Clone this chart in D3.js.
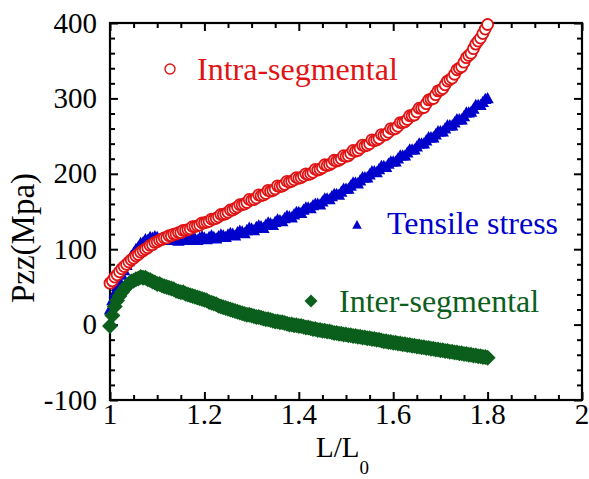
<!DOCTYPE html>
<html>
<head>
<meta charset="utf-8">
<script src="https://cdn.jsdelivr.net/npm/d3@7/dist/d3.min.js"></script>
<style>
  html, body { margin: 0; padding: 0; background: #fff; }
  svg { display: block; }
  text { font-family: "Liberation Serif", "Times New Roman", serif; }
</style>
</head>
<body>
<svg id="chart" width="589" height="479"></svg>
<script>
// ---- data ----
const strain = [
  1.000,1.005,1.010,1.015,1.020,1.025,1.030,1.035,1.040,1.045,
  1.050,1.055,1.060,1.065,1.070,1.075,1.080,1.085,1.090,1.095,
  1.100,1.105,1.110,1.115,1.120,1.125,1.130,1.135,1.140,1.145,
  1.150,1.155,1.160,1.165,1.170,1.175,1.180,1.185,1.190,1.195,
  1.200,1.205,1.210,1.215,1.220,1.225,1.230,1.235,1.240,1.245,
  1.250,1.255,1.260,1.265,1.270,1.275,1.280,1.285,1.290,1.295,
  1.300,1.305,1.310,1.315,1.320,1.325,1.330,1.335,1.340,1.345,
  1.350,1.355,1.360,1.365,1.370,1.375,1.380,1.385,1.390,1.395,
  1.400,1.405,1.410,1.415,1.420,1.425,1.430,1.435,1.440,1.445,
  1.450,1.455,1.460,1.465,1.470,1.475,1.480,1.485,1.490,1.495,
  1.500,1.505,1.510,1.515,1.520,1.525,1.530,1.535,1.540,1.545,
  1.550,1.555,1.560,1.565,1.570,1.575,1.580,1.585,1.590,1.595,
  1.600,1.605,1.610,1.615,1.620,1.625,1.630,1.635,1.640,1.645,
  1.650,1.655,1.660,1.665,1.670,1.675,1.680,1.685,1.690,1.695,
  1.700,1.705,1.710,1.715,1.720,1.725,1.730,1.735,1.740,1.745,
  1.750,1.755,1.760,1.765,1.770,1.775,1.780,1.785,1.790,1.795,
  1.800];

const intraSegmental = [
  55,58,63,66,70,74,77,80,83,86,
  88,91,93,96,98,100,102,105,106,109,
  110,112,113,115,115,118,118,120,120,122,
  122,125,125,126,127,130,130,131,132,135,
  135,136,137,140,140,141,143,146,146,147,
  149,152,152,154,156,159,159,160,162,166,
  165,166,168,172,171,172,174,178,177,178,
  180,184,183,184,186,190,189,190,192,195,
  194,195,197,200,199,200,202,206,205,206,
  208,212,211,212,214,218,217,218,220,224,
  223,224,227,231,230,231,234,238,237,238,
  240,245,244,245,247,252,251,252,255,260,
  259,260,263,268,268,269,272,277,277,278,
  282,287,287,288,293,298,299,300,305,310,
  311,313,318,323,325,327,332,338,340,342,
  348,354,357,360,366,372,376,380,386,392,
  398];

const tensileStress = [
  20,32,42,51,58,66,72,79,84,91,
  95,100,103,108,109,113,112,116,115,117,
  116,113,115,116,114,112,114,116,113,111,
  113,115,114,112,113,116,114,112,115,117,
  115,113,116,118,116,114,117,119,118,116,
  119,121,120,118,122,124,123,121,125,128,
  127,125,129,131,130,128,132,135,134,132,
  136,139,138,137,141,144,143,142,146,149,
  149,148,152,155,155,154,158,160,160,159,
  163,167,167,166,170,173,173,172,176,180,
  180,180,184,188,188,187,191,195,195,195,
  199,203,203,202,206,210,210,209,213,216,
  216,216,220,224,224,224,228,232,232,232,
  236,240,240,240,244,248,248,248,252,256,
  256,256,260,264,264,264,268,272,272,272,
  276,281,281,282,286,291,291,291,295,299,
  300];

const interSegmental = [
  -2,12,24,32,38,43,47,51,54,57,
  58,60,61,63,62,62,60,59,57,56,
  54,54,52,51,50,49,48,47,45,44,
  43,43,41,40,39,38,37,36,35,34,
  33,32,30,29,28,27,25,24,23,22,
  21,20,19,18,17,16,15,14,13,13,
  12,11,10,10,9,8,7,7,6,5,
  4,4,3,3,2,1,0,0,-1,-1,
  -2,-2,-3,-4,-4,-5,-6,-6,-7,-7,
  -8,-8,-9,-9,-10,-11,-11,-12,-12,-13,
  -13,-14,-14,-15,-15,-16,-16,-17,-17,-18,
  -18,-19,-19,-20,-20,-21,-22,-22,-23,-23,
  -24,-24,-25,-25,-26,-26,-27,-27,-28,-28,
  -29,-29,-30,-30,-31,-31,-32,-32,-33,-33,
  -34,-34,-35,-35,-36,-36,-37,-37,-38,-38,
  -39,-39,-40,-40,-41,-41,-42,-42,-43,-43,
  -44];

const xMajorTicks = [1, 1.2, 1.4, 1.6, 1.8, 2];
const xTickLabels = ["1", "1.2", "1.4", "1.6", "1.8", "2"];
const yMajorTicks = [-100, 0, 100, 200, 300, 400];
const yTickLabels = ["-100", "0", "100", "200", "300", "400"];
const xMinorTicks = [1.05,1.1,1.15,1.25,1.3,1.35,1.45,1.5,1.55,1.65,1.7,1.75,1.85,1.9,1.95];
const yMinorTicks = [-80,-60,-40,-20,20,40,60,80,120,140,160,180,220,240,260,280,320,340,360,380];

const seriesNames = ["Intra-segmental", "Tensile stress", "Inter-segmental"];
const colors = { intra: "#e01414", tensile: "#0000cc", inter: "#0b5e1c" };

// ---- layout ----
const svg = d3.select("#chart");
const L = 110, R = 582, T = 23, B = 400;
const x = d3.scaleLinear().domain([1, 2]).range([L, R]);
const y = d3.scaleLinear().domain([-100, 400]).range([B, T]);

// axes ticks (inward) on all four sides
function tickAxis(axisFn, scale, values, size, transform) {
  const g = svg.append("g").attr("transform", transform)
    .call(axisFn(scale).tickValues(values).tickSize(-size).tickFormat(""));
  g.select(".domain").remove();
  g.selectAll(".tick line").attr("stroke", "#000").attr("stroke-width", 2);
}
tickAxis(d3.axisBottom, x, xMajorTicks, 8, `translate(0,${B})`);
tickAxis(d3.axisBottom, x, xMinorTicks, 5, `translate(0,${B})`);
tickAxis(d3.axisTop, x, xMajorTicks, 8, `translate(0,${T})`);
tickAxis(d3.axisTop, x, xMinorTicks, 5, `translate(0,${T})`);
tickAxis(d3.axisLeft, y, yMajorTicks, 8, `translate(${L},0)`);
tickAxis(d3.axisLeft, y, yMinorTicks, 5, `translate(${L},0)`);
tickAxis(d3.axisRight, y, yMajorTicks, 8, `translate(${R},0)`);
tickAxis(d3.axisRight, y, yMinorTicks, 5, `translate(${R},0)`);

svg.append("rect").attr("x", L).attr("y", T).attr("width", R - L).attr("height", B - T)
  .attr("fill", "none").attr("stroke", "#000").attr("stroke-width", 2.2);

// tick labels
svg.append("g").selectAll("text").data(xMajorTicks).join("text")
  .attr("x", d => x(d)).attr("y", B + 24)
  .attr("text-anchor", "middle").attr("font-size", 29).attr("fill", "#000")
  .text((d, i) => xTickLabels[i]);
svg.append("g").selectAll("text").data(yMajorTicks).join("text")
  .attr("x", L - 13).attr("y", d => y(d) + 9.5)
  .attr("text-anchor", "end").attr("font-size", 29).attr("fill", "#000")
  .text((d, i) => yTickLabels[i]);

// axis titles
const xt = svg.append("text").attr("x", 316).attr("y", 457).attr("font-size", 29).attr("fill", "#000");
xt.append("tspan").text("L/L");
xt.append("tspan").attr("dy", 17).attr("font-size", 19).text("0");
svg.append("text").attr("transform", "translate(34,238) rotate(-90)")
  .attr("text-anchor", "middle").attr("font-size", 33).attr("fill", "#000").text("Pzz(Mpa)");

// marker shapes
const tri = s => `M0,${-s}L${s * 0.95},${s * 0.75}L${-s * 0.95},${s * 0.75}Z`;
const dia = s => `M0,${-s}L${s},0L0,${s}L${-s},0Z`;

const pts = vals => strain.map((s, i) => [s, vals[i]]);

// tensile stress (blue triangles)
svg.append("g").selectAll("path").data(pts(tensileStress)).join("path")
  .attr("transform", d => `translate(${x(d[0])},${y(d[1])})`)
  .attr("d", tri(6.5)).attr("fill", colors.tensile);

// inter-segmental (green diamonds)
svg.append("g").selectAll("path").data(pts(interSegmental)).join("path")
  .attr("transform", d => `translate(${x(d[0])},${y(d[1])})`)
  .attr("d", dia(8)).attr("fill", colors.inter);

// intra-segmental (red open circles)
svg.append("g").selectAll("circle").data(pts(intraSegmental)).join("circle")
  .attr("cx", d => x(d[0])).attr("cy", d => y(d[1])).attr("r", 5.5)
  .attr("fill", "#fff").attr("stroke", colors.intra).attr("stroke-width", 1.8);

// in-plot legend labels
svg.append("circle").attr("cx", 170).attr("cy", 69).attr("r", 5)
  .attr("fill", "#fff").attr("stroke", colors.intra).attr("stroke-width", 1.4);
svg.append("text").attr("x", 197).attr("y", 80).attr("font-size", 32)
  .attr("fill", colors.intra).text(seriesNames[0]);

svg.append("path").attr("transform", "translate(357,225)").attr("d", tri(5)).attr("fill", colors.tensile);
svg.append("text").attr("x", 387).attr("y", 234).attr("font-size", 32)
  .attr("fill", colors.tensile).text(seriesNames[1]);

svg.append("path").attr("transform", "translate(311,301)").attr("d", dia(6.5)).attr("fill", colors.inter);
svg.append("text").attr("x", 339).attr("y", 312).attr("font-size", 32)
  .attr("fill", colors.inter).text(seriesNames[2]);
</script>
</body>
</html>
